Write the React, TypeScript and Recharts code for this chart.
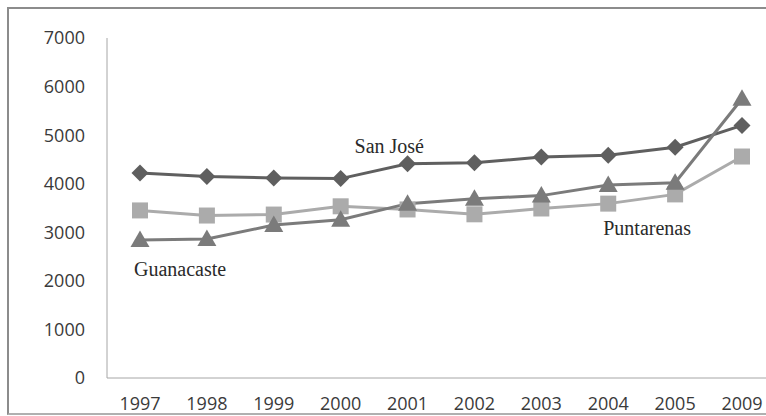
import { LineChart, Line, XAxis, YAxis } from "recharts";

const years = ["1997", "1998", "1999", "2000", "2001", "2002", "2003", "2004", "2005", "2009"];
const sanJose = [4220, 4150, 4120, 4105, 4410, 4430, 4550, 4585, 4750, 5200];
const puntarenas = [3450, 3345, 3365, 3535, 3470, 3370, 3490, 3590, 3780, 4560];
const guanacaste = [2840, 2860, 3150, 3260, 3590, 3690, 3755, 3975, 4020, 5750];
const yTicks = [0, 1000, 2000, 3000, 4000, 5000, 6000, 7000];

const data = years.map((year, i) => ({
  year,
  sanJose: sanJose[i],
  puntarenas: puntarenas[i],
  guanacaste: guanacaste[i],
}));

const Diamond = ({ cx, cy, fill }: any) => (
  <path d={`M${cx},${cy - 8.5} L${cx + 8.5},${cy} L${cx},${cy + 8.5} L${cx - 8.5},${cy} Z`} fill={fill} />
);

const Square = ({ cx, cy, fill }: any) => (
  <rect x={cx - 8} y={cy - 8} width={16} height={16} fill={fill} />
);

const Triangle = ({ cx, cy, fill }: any) => (
  <path d={`M${cx},${cy - 9.5} L${cx + 9.5},${cy + 7} L${cx - 9.5},${cy + 7} Z`} fill={fill} />
);

// series name written next to one chosen point, like the original
const seriesLabel = (at: number, text: string, dx: number, dy: number) => (props: any) => {
  if (props.index !== at) return null;
  return (
    <text
      x={props.x + dx}
      y={props.y + dy}
      fill="#2a2a2a"
      fontSize={20}
      fontFamily="'Liberation Serif', 'Times New Roman', serif"
    >
      {text}
    </text>
  );
};

const tickStyle = { fill: "#3a3a3a", fontSize: 18, fontFamily: "'Open Sans', sans-serif" };

export default function App() {
  return (
    <div
      style={{
        position: "fixed",
        left: 0,
        top: 0,
        width: 766,
        height: 416,
        overflow: "hidden",
        background: "#fff",
      }}
    >
      <div
        style={{
          position: "absolute",
          left: 7,
          top: 7,
          width: 800,
          height: 404,
          borderLeft: "2px solid #8c8c8c",
          borderTop: "2px solid #8c8c8c",
          borderBottom: "2px solid #b0b0b0",
        }}
      >
        <LineChart
          width={790}
          height={410}
          data={data}
          margin={{ top: 29, right: 24, bottom: 6, left: 0 }}
          style={{ overflow: "visible" }}
        >
          <XAxis
            dataKey="year"
            padding={{ left: 33, right: 33 }}
            height={35}
            tickLine={false}
            tickSize={0}
            tickMargin={19}
            stroke="#a6a6a6"
            tick={tickStyle}
          />
          <YAxis
            domain={[0, 7000]}
            ticks={yTicks}
            width={98}
            tickLine={false}
            tickSize={0}
            tickMargin={22}
            stroke="#a6a6a6"
            tick={tickStyle}
          />
          <Line
            dataKey="puntarenas"
            stroke="#ababab"
            strokeWidth={3}
            dot={<Square fill="#ababab" />}
            label={seriesLabel(7, "Puntarenas", -5, 31)}
            isAnimationActive={false}
          />
          <Line
            dataKey="sanJose"
            stroke="#5f5f5f"
            strokeWidth={3}
            dot={<Diamond fill="#5f5f5f" />}
            label={seriesLabel(4, "San José", -53, -11)}
            isAnimationActive={false}
          />
          <Line
            dataKey="guanacaste"
            stroke="#7b7b7b"
            strokeWidth={3}
            dot={<Triangle fill="#7b7b7b" />}
            label={seriesLabel(0, "Guanacaste", -6, 36)}
            isAnimationActive={false}
          />
        </LineChart>
      </div>
    </div>
  );
}
